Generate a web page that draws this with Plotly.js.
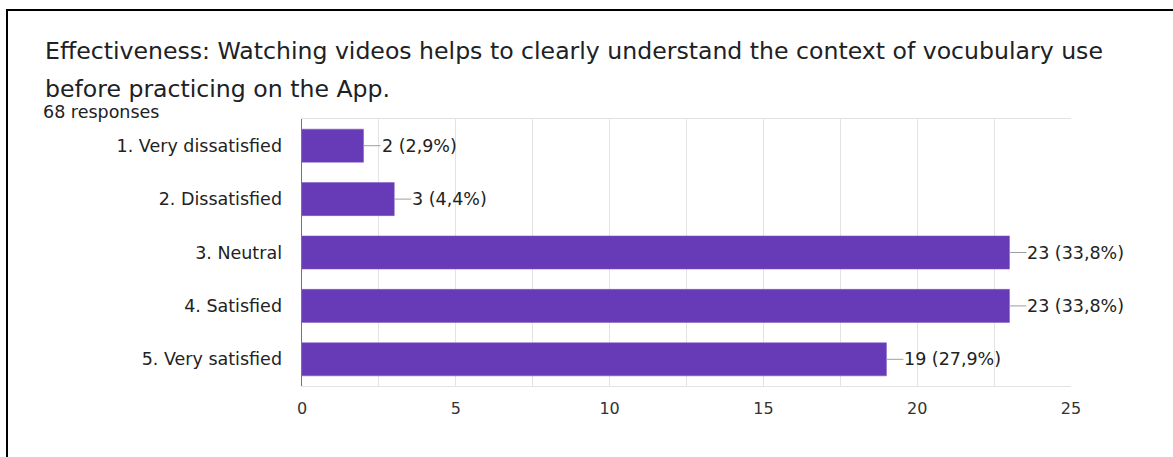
<!DOCTYPE html>
<html>
<head>
<meta charset="utf-8">
<script src="https://cdn.plot.ly/plotly-3.0.1.min.js"></script>
<style>
  html, body { margin: 0; padding: 0; background: #fff; overflow: hidden; }
  #chart { width: 1173px; height: 457px; }
  #frame { position: absolute; left: 6px; top: 9px; width: 1200px; height: 500px;
           border-top: 2px solid #000; border-left: 2px solid #000; pointer-events: none; }
</style>
</head>
<body>
<div id="chart"></div>
<div id="frame"></div>
<script>
const categories = ["1. Very dissatisfied", "2. Dissatisfied", "3. Neutral", "4. Satisfied", "5. Very satisfied"];
const counts = [2, 3, 23, 23, 19];
const labels = ["2 (2,9%)", "3 (4,4%)", "23 (33,8%)", "23 (33,8%)", "19 (27,9%)"];
const titleLine1 = "Effectiveness: Watching videos helps to clearly understand the context of vocubulary use";
const titleLine2 = "before practicing on the App.";
const subtitle = "68 responses";

const W = 1173, H = 457;
const M = {l: 302, r: 102, t: 119, b: 71};
const plotH = H - M.t - M.b;
const plotW = W - M.l - M.r;
const py = (pix) => (H - M.b - pix) / plotH;
const px = (pix) => (pix - M.l) / plotW;

const font = "DejaVu Sans, Verdana, sans-serif";

const annotations = [];
annotations.push({xref: "paper", yref: "paper", x: px(44), y: py(51.5), xanchor: "left", yanchor: "middle",
  text: titleLine1, showarrow: false, borderpad: 0, font: {family: font, size: 23.6, color: "#202124"}});
annotations.push({xref: "paper", yref: "paper", x: px(44), y: py(88.5), xanchor: "left", yanchor: "middle",
  text: titleLine2, showarrow: false, borderpad: 0, font: {family: font, size: 23.6, color: "#202124"}});
annotations.push({xref: "paper", yref: "paper", x: px(42), y: py(112), xanchor: "left", yanchor: "middle",
  text: subtitle, showarrow: false, borderpad: 0, font: {family: font, size: 17.5, color: "#202124"}});

categories.forEach((c, i) => {
  annotations.push({
    xref: "x", yref: "y", x: counts[i], y: c,
    text: labels[i], showarrow: true, arrowhead: 0, arrowwidth: 1, arrowcolor: "#9e9e9e",
    ax: 17, ay: 0, xanchor: "left", yanchor: "middle", borderpad: 0, standoff: 0,
    font: {family: font, size: 17.5, color: "#222"}
  });
});

const trace = {
  type: "bar", orientation: "h",
  x: counts, y: categories,
  marker: {color: "#673ab7", line: {color: "#7e57c2", width: 0.5}},
  hoverinfo: "none"
};

const layout = {
  width: W, height: H,
  margin: M,
  paper_bgcolor: "#fff", plot_bgcolor: "#fff",
  showlegend: false,
  bargap: 0.38,
  font: {family: font, size: 16, color: "#333"},
  xaxis: {
    range: [0, 25], dtick: 5, tick0: 0, fixedrange: true,
    showgrid: true, gridcolor: "#e3e3e3", gridwidth: 1,
    minor: {dtick: 2.5, showgrid: true, gridcolor: "#e3e3e3", gridwidth: 1},
    zeroline: false, showline: true, linecolor: "#e3e3e3", linewidth: 1, mirror: true,
    ticks: "", ticklabelstandoff: 8,
    tickfont: {family: font, size: 16, color: "#333"}
  },
  yaxis: {
    type: "category", autorange: "reversed", fixedrange: true,
    showgrid: false, zeroline: false,
    showline: true, linecolor: "#757575", linewidth: 1.5,
    ticks: "", ticklabelstandoff: 15,
    tickfont: {family: font, size: 17.5, color: "#222"}
  },
  annotations: annotations
};

Plotly.newPlot("chart", [trace], layout, {displayModeBar: false, staticPlot: true});
</script>
</body>
</html>
